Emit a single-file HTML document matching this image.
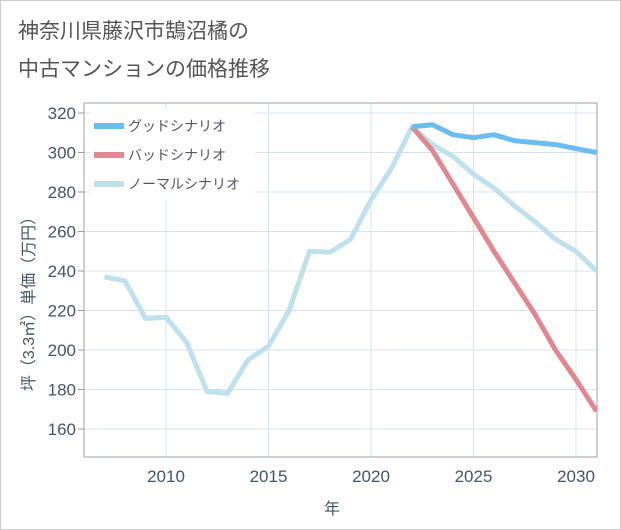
<!DOCTYPE html>
<html><head><meta charset="utf-8"><style>
body{margin:0;background:#fff;}
svg{display:block;font-family:"Liberation Sans","Noto Sans CJK JP",sans-serif;}
</style></head><body>
<svg id="c" width="621" height="530">
<rect x="0.5" y="0.5" width="620" height="529" fill="#fff" stroke="#ccc"/>
<text x="18" y="38" font-size="21" fill="#555">神奈川県藤沢市鵠沼橘の</text>
<text x="18" y="76" font-size="21" fill="#555">中古マンションの価格推移</text>
<g id="grid"></g>
<g id="axes"></g>
<g id="series"></g>
<g id="legend"></g>
<text x="332" y="514" font-size="16" fill="#445566" text-anchor="middle">年</text>
<text transform="translate(34,300) rotate(-90)" font-size="16" fill="#445566" text-anchor="middle">坪（3.3㎡）単価（万円）</text>
</svg>
<script>
const xTicks=[2010,2015,2020,2025,2030];
const yTicks=[160,180,200,220,240,260,280,300,320];
const normalYears=[2007,2008,2009,2010,2011,2012,2013,2014,2015,2016,2017,2018,2019,2020,2021,2022,2023,2024,2025,2026,2027,2028,2029,2030,2031];
const normalValues=[237,235,216,216.5,204,179,178,195,202,220,250,249.5,256,276,292,313,304,298,289,282,273,265,256,250,240];
const goodYears=[2022,2023,2024,2025,2026,2027,2028,2029,2030,2031];
const goodValues=[313,314,309,307.5,309,306,305,304,302,300];
const badYears=[2022,2023,2024,2025,2026,2027,2028,2029,2030,2031];
const badValues=[313,301,284,267,250,234,218,200,185,169];
const NS='http://www.w3.org/2000/svg';
const L=84,R=597,T=103,B=457;
const xs=y=>166+(y-2010)*(576-166)/20;
const ys=v=>113+(320-v)*(429-113)/160;
function mk(t,a,p){const e=document.createElementNS(NS,t);for(const k in a)e.setAttribute(k,a[k]);p.appendChild(e);return e;}
const grid=document.getElementById('grid'),axes=document.getElementById('axes'),ser=document.getElementById('series'),leg=document.getElementById('legend');
xTicks.forEach(t=>{
 const g=mk('line',{x1:xs(t),x2:xs(t),y1:T,y2:B,stroke:'#d4e4f0','stroke-width':1},grid);
 
 
 const tx=mk('text',{x:xs(t),y:B+25,'font-size':17,fill:'#445566','text-anchor':'middle'},axes);
 tx.textContent=t;
 
 
});
yTicks.forEach(t=>{
 const g=mk('line',{x1:L,x2:R,y1:ys(t),y2:ys(t),stroke:'#d4e4f0','stroke-width':1},grid);
 
 
 const tk=mk('line',{x1:L-6,x2:L,y1:ys(t),y2:ys(t),stroke:'#99a','stroke-width':1},axes);
 
 
 const tx=mk('text',{x:L-8,y:ys(t)+6,'font-size':17,fill:'#445566','text-anchor':'end'},axes);
 tx.textContent=t;
 
 
});
const fr=mk('rect',{x:L,y:T,width:R-L,height:B-T,fill:'none',stroke:'#99a0a8','stroke-width':1},axes);


function line(xa,va,col,name){
 const d=xa.map((x,i)=>(i?'L':'M')+xs(x).toFixed(1)+','+ys(va[i]).toFixed(1)).join('');
 const p=mk('path',{d:d,fill:'none',stroke:col,'stroke-width':5,'stroke-linejoin':'round'},ser);
 
 
}
const cp=mk('clipPath',{id:'clip'},document.getElementById('c'));
mk('rect',{x:L,y:T,width:R-L,height:B-T},cp);
ser.setAttribute('clip-path','url(#clip)');
line(normalYears,normalValues,'#bfe0ec','normal-scenario-line');
line(badYears,badValues,'#e08890','bad-scenario-line');
line(goodYears,goodValues,'#6bbdf0','good-scenario-line');
const lb=mk('rect',{x:90,y:110,width:165,height:90,fill:'#fff'},leg);


[['グッドシナリオ','#6bbdf0'],['バッドシナリオ','#e08890'],['ノーマルシナリオ','#bfe0ec']].forEach((e,i)=>{
 const y=126+i*29;
 const s=mk('rect',{x:94,y:y-3,width:30,height:6,fill:e[1]},leg);
 
 
 const t=mk('text',{x:128,y:y+5,'font-size':14,fill:'#556'},leg);
 t.textContent=e[0];
 
 
});
</script>
</body></html>
